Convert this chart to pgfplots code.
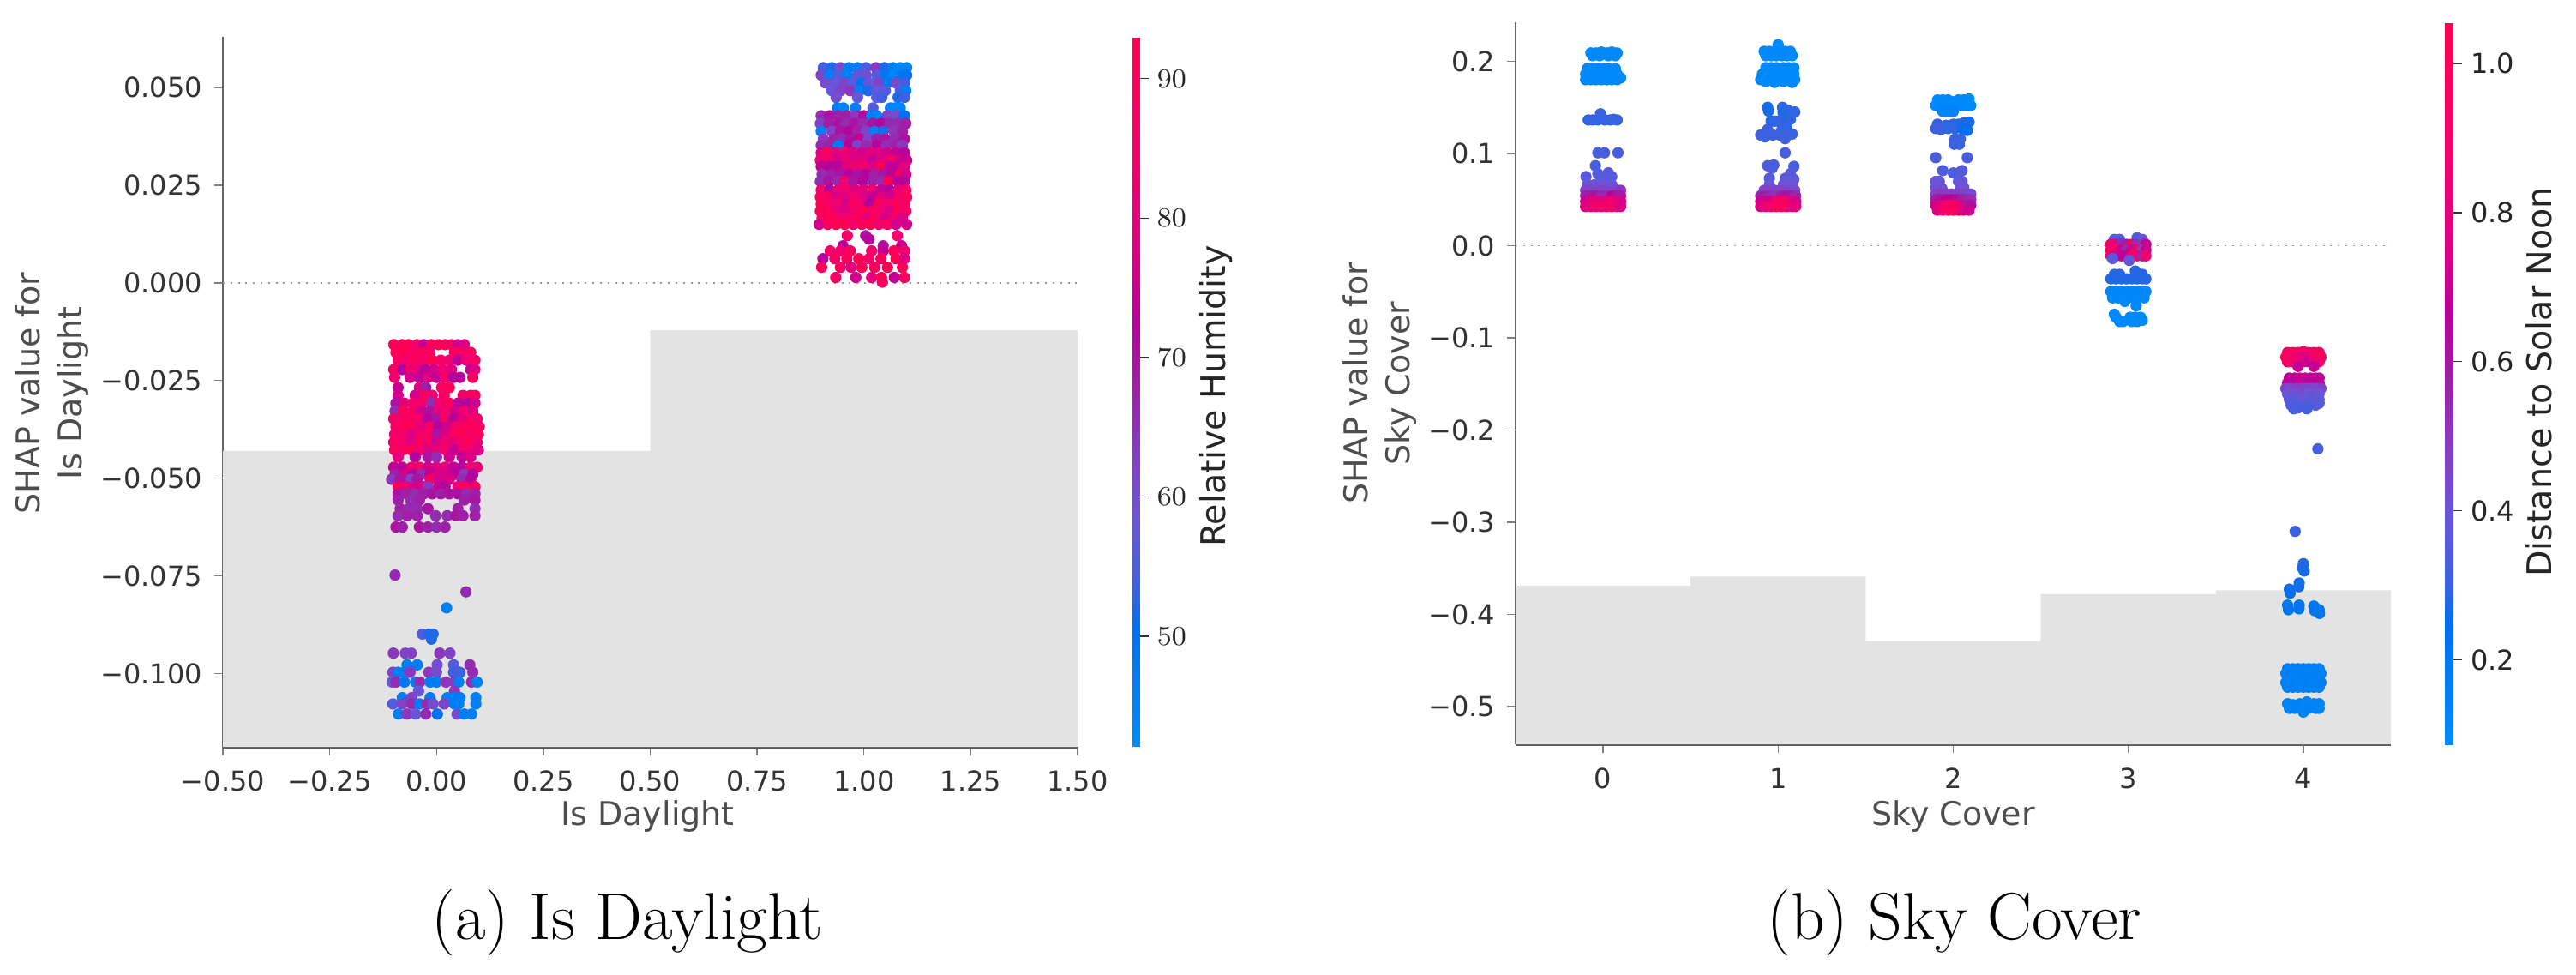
\documentclass[border=0pt]{standalone}
\usepackage{fontspec}
\usepackage{pgfplots}
\pgfplotsset{compat=1.18}
\newfontfamily\djv{DejaVu Sans}
\definecolor{histgray}{HTML}{E3E3E3}
\definecolor{ticktext}{HTML}{333333}
\definecolor{labeltext}{HTML}{4D4D4D}
\pgfplotsset{
  colormap={shap}{rgb255(0pt)=(0,139,251) rgb255(17pt)=(0,112,238) rgb255(22pt)=(58,98,224) rgb255(32pt)=(106,85,216) rgb255(42pt)=(138,58,192) rgb255(50pt)=(156,34,168) rgb255(60pt)=(184,0,154) rgb255(68pt)=(216,0,136) rgb255(81pt)=(240,0,112) rgb255(100pt)=(255,0,81)},
  shapaxis/.style={
    scale only axis,
    colormap name=shap,
    axis x line=bottom, axis y line=left,
    x axis line style={-, draw=black!65, line width=0.75pt},
    y axis line style={-, draw=black!60, line width=0.4pt},
    tick align=outside,
    major tick length=2.5pt,
    tick style={draw=black!50, line width=0.35pt},
    tick label style={font=\djv\fontsize{8}{10}\selectfont, text=ticktext},
    label style={font=\djv\fontsize{9.5}{12.2}\selectfont, text=labeltext},
    xlabel style={anchor=center},
    ylabel style={anchor=center, align=center},
    xticklabel style={yshift=-1pt},
  },
  shapbar/.style={
    axis line style={draw=none},
    tick align=outside,
    major tick length=2.5pt,
    ytick pos=right,
    ytick style={draw=black!80, line width=0.35pt},
    yticklabel style={font=\djv\fontsize{8}{10}\selectfont, text=black!85, xshift=-1pt},
    ylabel style={font=\djv\fontsize{9.9}{12}\selectfont, text=black!85, anchor=center},
  },
  dots/.style={scatter, only marks, point meta=explicit, mark=*, mark size=1.45pt,
    scatter/use mapped color={draw=mapped color, fill=mapped color}},
}
\begin{document}
\begin{tikzpicture}
\path[use as bounding box] (0pt,0pt) rectangle (751.25pt,284pt);
\begin{axis}[shapaxis,
  at={(65pt,66.25pt)}, anchor=south west,
  width=249.25pt, height=207pt,
  xmin=-0.5, xmax=1.5, ymin=-0.1188, ymax=0.063,
  xtick={-0.5,-0.25,0,0.25,0.5,0.75,1,1.25,1.5},
  xticklabels={−0.50,−0.25,0.00,0.25,0.50,0.75,1.00,1.25,1.50},
  ytick={-0.1,-0.075,-0.05,-0.025,0,0.025,0.05},
  yticklabels={−0.100,−0.075,−0.050,−0.025,0.000,0.025,0.050},
  xlabel={Is Daylight},
  xlabel style={at={(axis description cs:0.497,-0.098)}},
  ylabel={SHAP value for\\Is Daylight},
  ylabel style={at={(axis description cs:-0.2,0.498)}},
  point meta min=42.06, point meta max=93,
  colorbar,
  colorbar style={shapbar, at={(1.064,1)}, anchor=north west, width=2.25pt,
    ytick={50,60,70,80,90},
    ylabel={Relative Humidity},
    ylabel style={at={(axis description cs:10.9,0.494)}}},
]
\addplot[fill=histgray, draw=none] coordinates {(-0.5,-0.1188)(-0.5,-0.043)(0.5,-0.043)(0.5,-0.0121)(1.5,-0.0121)(1.5,-0.1188)};
\addplot[draw=black!40, line width=0.45pt, dash pattern=on 0.5pt off 1.7pt] coordinates {(-0.5,0)(1.5,0)};
\addplot[dots] coordinates {
(.905,.0551)[54](.925,.0551)[52](.945,.0551)[60](.965,.0551)[47](.985,.0551)[46](1.005,.0551)[55](1.028,.0551)[64](1.048,.0551)[52](1.068,.0551)[46](1.085,.0551)[44](1.1,.0551)[44]
(.9,.0532)[62](.918,.0532)[46](.94,.0532)[56](.96,.0532)[46](.985,.0532)[57](1.005,.0532)[60](1.03,.0532)[56](1.05,.0532)[48](1.07,.0532)[44](1.088,.0532)[48](1.1,.0532)[50]
(.91,.0512)[60](.932,.0512)[58](.955,.0512)[62](.975,.0512)[56](.995,.0512)[50](1.012,.0512)[58](1.035,.0512)[62](1.055,.0512)[47](1.075,.0512)[60](1.095,.0512)[54]
(.925,.0492)[58](.945,.0492)[62](.968,.0492)[64](.99,.0492)[46](1.01,.0492)[52](1.03,.0492)[58](1.05,.0492)[56](1.085,.0492)[56](1.098,.0492)[46]
(.935,.0475)[60](.985,.0475)[58](1.03,.0475)[56](1.042,.0475)[54](1.08,.0475)[52](1.095,.0475)[54]
(.938,.0448)[47](.952,.0448)[45](.98,.0448)[46](1.021,.0448)[56](1.062,.0448)[45](1.072,.0448)[44](1.085,.0448)[44]
(.9,.0428)[66](.92,.0428)[70](.94,.0428)[68](.96,.0428)[68](.98,.0428)[64](1,.0428)[72](1.018,.0428)[46](1.03,.0428)[46](1.055,.0428)[62](1.075,.0428)[60](1.095,.0428)[50]
(.898,.0408)[62](.918,.0408)[68](.94,.0408)[70](.958,.0408)[66](.978,.0408)[70](.998,.0408)[66](1.02,.0408)[70](1.04,.0408)[72](1.06,.0408)[66](1.08,.0408)[66](1.098,.0408)[68]
(.9,.0388)[46](.925,.0388)[62](.945,.0388)[70](.965,.0388)[72](.985,.0388)[68](1.005,.0388)[62](1.025,.0388)[46](1.045,.0388)[52](1.07,.0388)[64](1.09,.0388)[68]
(.905,.0368)[64](.93,.0368)[68](.95,.0368)[66](.97,.0368)[70](.99,.0368)[74](1.01,.0368)[62](1.03,.0368)[68](1.05,.0368)[70](1.072,.0368)[66](1.095,.0368)[70]
(.9,.0352)[66](.92,.0352)[68](.94,.0352)[48](.965,.0352)[72](.985,.0352)[62](1.005,.0352)[66](1.03,.0352)[72](1.052,.0352)[66](1.075,.0352)[68](1.09,.0352)[64]
(.9,.0333)[78](.912,.0333)[90](.935,.0333)[80](.955,.0333)[84](.975,.0333)[78](.995,.0333)[76](1.015,.0333)[80](1.035,.0333)[78](1.055,.0333)[76](1.075,.0333)[74](1.095,.0333)[72]
(.898,.0314)[82](.92,.0314)[84](.94,.0314)[76](.96,.0314)[82](.98,.0314)[78](1,.0314)[80](1.02,.0314)[74](1.04,.0314)[78](1.065,.0314)[88](1.085,.0314)[76](1.1,.0314)[74]
(.9,.0298)[74](.92,.0298)[72](.94,.0298)[72](.96,.0298)[80](.98,.0298)[84](1,.0298)[84](1.02,.0298)[78](1.04,.0298)[92](1.06,.0298)[74](1.08,.0298)[74](1.095,.0298)[80]
(.902,.0278)[66](.925,.0278)[68](.945,.0278)[70](.965,.0278)[72](.985,.0278)[70](1.005,.0278)[72](1.025,.0278)[68](1.045,.0278)[70](1.065,.0278)[72](1.085,.0278)[88](1.098,.0278)[76]
(.898,.026)[66](.918,.026)[70](.94,.026)[66](.955,.026)[84](.975,.026)[70](.998,.026)[72](1.02,.026)[68](1.042,.026)[66](1.058,.026)[92](1.08,.026)[72](1.095,.026)[72]
(.9,.0238)[84](.92,.0238)[72](.94,.0238)[82](.96,.0238)[86](.98,.0238)[78](1,.0238)[80](1.02,.0238)[84](1.04,.0238)[74](1.06,.0238)[72](1.08,.0238)[82](1.098,.0238)[84]
(.898,.022)[90](.915,.022)[88](.938,.022)[78](.96,.022)[80](.98,.022)[84](1,.022)[78](1.02,.022)[74](1.04,.022)[80](1.062,.022)[76](1.085,.022)[86](1.1,.022)[90]
(.9,.0202)[91](.92,.0202)[86](.94,.0202)[84](.96,.0202)[76](.975,.0202)[90](.995,.0202)[84](1.012,.0202)[72](1.035,.0202)[90](1.055,.0202)[84](1.075,.0202)[90](1.095,.0202)[88]
(.898,.0184)[92](.918,.0184)[90](.94,.0184)[80](.958,.0184)[78](.98,.0184)[86](1,.0184)[92](1.02,.0184)[88](1.04,.0184)[84](1.06,.0184)[78](1.08,.0184)[92](1.098,.0184)[86]
(.902,.0166)[90](.925,.0166)[92](.945,.0166)[84](.965,.0166)[86](.985,.0166)[90](1.005,.0166)[80](1.025,.0166)[90](1.05,.0166)[76](1.07,.0166)[84](1.09,.0166)[78]
(.895,.015)[76](.915,.015)[88](.935,.015)[92](.955,.015)[92](.975,.015)[86](.995,.015)[90](1.015,.015)[92](1.035,.015)[84](1.055,.015)[88](1.075,.015)[76](1.1,.015)[76]
(.961,.0121)[86](1.004,.0121)[70](1.078,.0121)[84]
(.951,.0095)[72](1.045,.0095)[70](1.088,.0095)[75](1.012,.0112)[72]
(.921,.0082)[86](.945,.0082)[84](.968,.0082)[88](1.018,.0082)[86](1.045,.0082)[74](1.07,.0082)[90](1.095,.0082)[84]
(.904,.0062)[72](.932,.0062)[88](.96,.0062)[90](.988,.0062)[92](1.012,.0062)[86](1.04,.0062)[90](1.075,.0062)[92](1.095,.0062)[78]
(.901,.004)[90](.945,.004)[88](.97,.004)[80](.995,.004)[92](1.025,.004)[90](1.055,.004)[92](1.09,.004)[90]
(.934,.0014)[88](.981,.0014)[76](1.018,.0014)[80](1.041,.0014)[92](1.071,.0014)[74](1.095,.0014)[90](1.043,.0002)[90]
(-.1,-.0158)[90](-.08,-.0158)[91](-.065,-.0158)[92](-.045,-.0158)[85](-.03,-.0158)[74](-.012,-.0158)[88](.005,-.0158)[90](.02,-.0158)[91](.035,-.0158)[88](.05,-.0158)[76](.065,-.0158)[78]
(-.095,-.0178)[90](-.075,-.0178)[92](-.055,-.0178)[88](-.035,-.0178)[90](-.015,-.0178)[87](.042,-.0178)[90](.06,-.0178)[88](.08,-.0178)[90]
(-.09,-.0198)[88](-.07,-.0198)[84](-.05,-.0198)[90](-.03,-.0198)[86](-.01,-.0198)[92](.01,-.0198)[88](.03,-.0198)[84](.05,-.0198)[74](.07,-.0198)[82](.09,-.0198)[86]
(-.1,-.0222)[88](-.08,-.0222)[72](-.06,-.0222)[86](-.04,-.0222)[78](-.025,-.0222)[72](-.005,-.0222)[76](.015,-.0222)[84](.035,-.0222)[80](.08,-.0222)[74](.09,-.0222)[78]
(-.098,-.0242)[84](-.062,-.0242)[76](-.04,-.0242)[74](-.02,-.0242)[78](0,-.0242)[74](.02,-.0242)[86](.04,-.0242)[72](.055,-.0242)[72](.085,-.0242)[88]
(-.09,-.0268)[74](-.04,-.0268)[80](-.025,-.0268)[68](.012,-.0268)[88](.03,-.0268)[90]
(-.09,-.0288)[76](-.05,-.0288)[76](-.028,-.0288)[88](-.01,-.0288)[84](.018,-.0288)[88](.062,-.0288)[86](.08,-.0288)[90](.09,-.0288)[88]
(-.095,-.0308)[70](-.075,-.0308)[80](-.055,-.0308)[84](-.035,-.0308)[88](-.012,-.0308)[66](.008,-.0308)[84](.03,-.0308)[90](.05,-.0308)[74](.07,-.0308)[72](.09,-.0308)[76]
(-.097,-.0328)[66](-.078,-.0328)[90](-.055,-.0328)[88](-.035,-.0328)[76](-.015,-.0328)[70](.005,-.0328)[82](.025,-.0328)[84](.045,-.0328)[76](.065,-.0328)[84](.085,-.0328)[78]
(-.1,-.0348)[86](-.08,-.0348)[88](-.06,-.0348)[90](-.04,-.0348)[84](-.02,-.0348)[72](0,-.0348)[70](.02,-.0348)[88](.04,-.0348)[72](.06,-.0348)[80](.08,-.0348)[86](.095,-.0348)[84]
(-.095,-.0368)[88](-.075,-.0368)[92](-.055,-.0368)[90](-.035,-.0368)[80](-.015,-.0368)[86](.005,-.0368)[72](.025,-.0368)[76](.045,-.0368)[86](.065,-.0368)[88](.085,-.0368)[90](.1,-.0368)[88]
(-.098,-.0388)[84](-.078,-.0388)[86](-.058,-.0388)[78](-.038,-.0388)[84](-.018,-.0388)[88](.002,-.0388)[70](.022,-.0388)[78](.042,-.0388)[90](.062,-.0388)[92](.082,-.0388)[86](.098,-.0388)[90]
(-.1,-.0408)[88](-.08,-.0408)[84](-.06,-.0408)[78](-.04,-.0408)[88](-.02,-.0408)[86](0,-.0408)[76](.02,-.0408)[84](.04,-.0408)[80](.06,-.0408)[88](.08,-.0408)[92](.095,-.0408)[84]
(-.098,-.0428)[90](-.078,-.0428)[88](-.058,-.0428)[92](-.038,-.0428)[84](-.018,-.0428)[78](.002,-.0428)[82](.022,-.0428)[86](.042,-.0428)[74](.062,-.0428)[84](.082,-.0428)[84](.098,-.0428)[78]
(-.09,-.0446)[80](-.05,-.0446)[72](-.02,-.0446)[70](0,-.0446)[66](.03,-.0446)[76](.06,-.0446)[74](.08,-.0446)[78]
(-.1,-.0472)[74](-.08,-.0472)[72](-.058,-.0472)[84](-.04,-.0472)[86](-.02,-.0472)[76](0,-.0472)[78](.02,-.0472)[80](.04,-.0472)[74](.06,-.0472)[72](.08,-.0472)[84](.095,-.0472)[82]
(-.097,-.049)[68](-.075,-.049)[76](-.055,-.049)[72](-.035,-.049)[66](-.015,-.049)[74](.005,-.049)[78](.025,-.049)[76](.045,-.049)[72](.065,-.049)[64](.085,-.049)[72]
(-.105,-.0503)[64](-.085,-.0503)[70](-.06,-.0503)[62](-.045,-.0503)[70](-.015,-.0503)[88](.005,-.0503)[76](.03,-.0503)[78](.06,-.0503)[66](.08,-.0503)[72]
(-.09,-.0522)[90](-.07,-.0522)[82](-.05,-.0522)[76](-.03,-.0522)[78](-.02,-.0522)[64](.005,-.0522)[74](.02,-.0522)[72](.05,-.0522)[84](.065,-.0522)[88](.09,-.0522)[86]
(-.09,-.054)[70](-.07,-.054)[68](-.05,-.054)[66](-.03,-.054)[68](-.01,-.054)[70](.01,-.054)[68](.03,-.054)[70](.05,-.054)[70](.07,-.054)[66](.09,-.054)[68]
(-.09,-.0556)[68](-.06,-.0556)[66](-.04,-.0556)[68](.065,-.0556)[68](.09,-.0556)[70]
(-.085,-.0578)[68](-.065,-.0578)[66](-.045,-.0578)[66](-.02,-.0578)[70](.05,-.0578)[68](.09,-.0578)[66]
(-.09,-.0596)[66](-.068,-.0596)[68](-.045,-.0596)[68](-.002,-.0596)[66](.025,-.0596)[66](.045,-.0596)[70](.062,-.0596)[68](.09,-.0596)[68]
(-.095,-.0625)[70](-.08,-.0625)[68](-.04,-.0625)[70](-.02,-.0625)[68](0,-.0625)[66](.02,-.0625)[68]
(-.097,-.0748)[66](.069,-.0791)[66](.0236,-.0832)[46]
(-.033,-.0899)[56](-.018,-.0899)[52](-.008,-.0899)[52](-.012,-.0912)[52]
(-.101,-.0948)[64](-.073,-.0948)[62](-.059,-.0948)[62](.0075,-.0948)[64](.0315,-.0948)[62]
(-.069,-.0978)[46](-.045,-.0978)[47](.0015,-.0978)[60](.04,-.0978)[56](.078,-.0978)[66]
(-.102,-.0997)[62](-.09,-.0997)[46](-.075,-.0997)[46](-.062,-.0997)[64](-.018,-.0997)[64](.0,-.0997)[60](.04,-.0997)[54](.055,-.0997)[54](.085,-.0997)[66]
(-.104,-.1022)[58](-.095,-.1022)[66](-.075,-.1022)[48](-.049,-.1022)[46](-.039,-.1022)[66](-.015,-.1022)[47](0,-.1022)[47](.022,-.1022)[64](.042,-.1022)[64](.052,-.1022)[46](.082,-.1022)[66](.095,-.1022)[46]
(-.042,-.1045)[58](.042,-.1045)[64]
(-.08,-.1062)[46](-.058,-.1062)[62](-.015,-.1062)[47](.025,-.1062)[46](.042,-.1062)[46](.055,-.1062)[47](.092,-.1062)[46]
(-.102,-.1078)[56](-.08,-.1078)[62](-.058,-.1078)[66](-.04,-.1078)[47](-.022,-.1078)[66](-.008,-.1078)[60](.018,-.1078)[62](.042,-.1078)[46](.052,-.1078)[46](.092,-.1078)[46]
(-.089,-.1104)[46](-.069,-.1104)[64](-.049,-.1104)[58](-.025,-.1104)[66](.002,-.1104)[50](.048,-.1104)[60](.065,-.1104)[46](.082,-.1104)[46]
};
\end{axis}
\begin{axis}[shapaxis,
  at={(442pt,67pt)}, anchor=south west,
  width=255.25pt, height=210.5pt,
  xmin=-0.5, xmax=4.5, ymin=-0.541, ymax=0.2423,
  xtick={0,1,2,3,4},
  xticklabels={0,1,2,3,4},
  ytick={-0.5,-0.4,-0.3,-0.2,-0.1,0,0.1,0.2},
  yticklabels={−0.5,−0.4,−0.3,−0.2,−0.1,0.0,0.1,0.2},
  xlabel={Sky Cover},
  xlabel style={at={(axis description cs:0.5,-0.0998)}},
  ylabel={SHAP value for\\Sky Cover},
  ylabel style={at={(axis description cs:-0.155,0.5)}},
  point meta min=0.087, point meta max=1.055,
  colorbar,
  colorbar style={shapbar, at={(1.0617,1)}, anchor=north west, width=2.5pt,
    ytick={0.2,0.4,0.6,0.8,1.0},
    yticklabels={0.2,0.4,0.6,0.8,1.0},
    ylabel={Distance to Solar Noon},
    ylabel style={at={(axis description cs:11.0,0.502)}}},
]
\addplot[fill=histgray, draw=none] coordinates {(-0.5,-0.541)(-0.5,-0.369)(0.5,-0.369)(0.5,-0.359)(1.5,-0.359)(1.5,-0.429)(2.5,-0.429)(2.5,-0.378)(3.5,-0.378)(3.5,-0.374)(4.5,-0.374)(4.5,-0.541)};
\addplot[draw=black!40, line width=0.45pt, dash pattern=on 0.5pt off 1.7pt] coordinates {(-0.5,0)(4.5,0)};
\addplot[dots] coordinates {
(-.07,.209)[.1](-.04,.209)[.1](-.01,.21)[.1](.02,.209)[.1](.05,.21)[.1](.08,.209)[.1](-.06,.206)[.1](-.02,.206)[.1](.03,.206)[.1](.07,.206)[.1]
(-.09,.192)[.11](-.06,.192)[.1](-.03,.192)[.1](0,.192)[.11](.03,.192)[.1](.07,.192)[.1]
(-.1,.186)[.1](-.07,.186)[.11](-.04,.186)[.1](-.01,.186)[.1](.02,.186)[.1](.05,.186)[.11](.08,.186)[.11](.1,.182)[.1]
(-.1,.18)[.11](-.07,.18)[.1](-.04,.18)[.11](-.01,.18)[.1](.02,.18)[.1](.05,.18)[.11](.08,.18)[.1]
(-.085,.1363)[.29](-.06,.1363)[.3](-.03,.1363)[.29](-.015,.143)[.3](.01,.1363)[.3](.04,.1363)[.29](.08,.1363)[.3](.06,.137)[.3]
(-.03,.1007)[.33](.008,.1007)[.33](.085,.1007)[.33](-.044,.0867)[.33]
(-.098,.0749)[.36](-.016,.0749)[.36](.016,.0749)[.36](.049,.0749)[.35](-.03,.078)[.35](.03,.079)[.36]
(-.09,.066)[.4](-.05,.066)[.4](-.02,.066)[.39](.01,.066)[.4](.05,.066)[.38]
(-.1,.06)[.47](-.07,.06)[.46](-.04,.06)[.45](-.01,.06)[.47](.02,.06)[.46](.05,.06)[.45](.08,.06)[.46](.1,.06)[.5]
(-.1,.054)[.58](-.07,.054)[.6](-.04,.054)[.62](-.01,.054)[.55](.02,.054)[.55](.05,.054)[.66](.08,.054)[.62](.1,.054)[.6]
(-.1,.048)[.72](-.07,.048)[.78](-.04,.048)[.82](-.01,.048)[.78](.02,.048)[.8](.05,.048)[.86](.08,.048)[.84](.1,.048)[.74]
(-.1,.0425)[.78](-.07,.0425)[.84](-.04,.0425)[.9](-.01,.0425)[.9](.02,.0425)[.92](.05,.0425)[.92](.08,.0425)[.88](.1,.0425)[.78]
(.92,.2107)[.1](.95,.2107)[.1](.98,.2107)[.1](1.01,.2107)[.1](1.04,.2107)[.1](1.07,.2107)[.1](1,.218)[.1]
(.93,.206)[.1](.96,.206)[.1](.99,.206)[.1](1.02,.206)[.1](1.05,.206)[.1](1.08,.206)[.1]
(.93,.193)[.11](.96,.193)[.1](.99,.193)[.1](1.03,.193)[.1](1.06,.193)[.11](1.09,.193)[.1]
(.91,.186)[.1](.94,.186)[.1](.97,.186)[.11](1,.186)[.1](1.03,.186)[.1](1.06,.186)[.1](1.09,.186)[.1]
(.9,.18)[.11](.93,.18)[.1](.96,.18)[.1](.99,.18)[.11](1.02,.18)[.1](1.05,.18)[.1](1.08,.18)[.1](1.095,.18)[.1]
(.93,.178)[.1](.98,.177)[.1](1.03,.178)[.1](1.08,.177)[.1]
(.94,.15)[.27](1.025,.15)[.29](1.055,.147)[.29](1.095,.145)[.29](.945,.146)[.27](1.028,.144)[.28]
(.96,.135)[.28](.98,.135)[.29](1,.135)[.29](1.02,.135)[.3](1.045,.135)[.28](1.07,.137)[.29]
(.94,.126)[.3](1.02,.125)[.3](1.05,.128)[.29]
(.9,.12)[.31](.935,.12)[.31](.97,.12)[.3](1.01,.12)[.3](1.05,.12)[.31](1.08,.121)[.3](.925,.118)[.3](1.04,.116)[.31]
(1.04,.1007)[.33]
(.94,.0867)[.33](.975,.0875)[.33](.965,.084)[.33](1.09,.086)[.33]
(.95,.073)[.36](1.04,.073)[.36](1.07,.078)[.36](1.09,.072)[.37](.95,.066)[.38](1.06,.066)[.38](1.08,.066)[.4](1.03,.066)[.39]
(.92,.06)[.46](.95,.06)[.46](.98,.06)[.46](1.01,.06)[.47](1.04,.06)[.46](1.07,.06)[.45](1.095,.06)[.44]
(.9,.054)[.56](.93,.054)[.58](.96,.054)[.55](.99,.054)[.52](1.02,.054)[.6](1.05,.054)[.62](1.08,.054)[.6](1.1,.054)[.55]
(.9,.048)[.72](.93,.048)[.74](.96,.048)[.72](.99,.048)[.95](1.02,.048)[.95](1.05,.048)[.96](1.08,.048)[.8](1.1,.048)[.74]
(.9,.0425)[.78](.93,.0425)[.82](.96,.0425)[.9](.99,.0425)[.98](1.02,.0425)[1](1.05,.0425)[.98](1.08,.0425)[.84](1.1,.0425)[.8]
(1.91,.158)[.1](1.94,.158)[.1](1.97,.158)[.11](2,.156)[.11](2.03,.158)[.1](2.06,.158)[.1](2.09,.159)[.1]
(1.9,.152)[.1](1.93,.152)[.11](1.96,.152)[.1](1.99,.152)[.1](2.02,.152)[.1](2.05,.152)[.1](2.08,.152)[.1](2.1,.152)[.1]
(1.94,.1456)[.13](1.97,.1456)[.12](2,.1456)[.13]
(1.91,.1317)[.29](1.96,.1305)[.29](2,.1317)[.29](2.03,.1317)[.28](2.06,.133)[.28](2.09,.134)[.27]
(1.9,.127)[.3](1.93,.126)[.3](1.97,.127)[.29](2.01,.127)[.29](2.05,.127)[.26](2.08,.125)[.24]
(2.01,.1156)[.3](2.04,.1156)[.3](2.005,.11)[.31](2.035,.11)[.3]
(1.9,.0954)[.33](2.08,.0954)[.33]
(1.94,.0814)[.34](2,.0788)[.34](2.03,.0788)[.34](2.05,.0814)[.35]
(1.9,.0697)[.39](1.92,.0697)[.38](2.03,.0697)[.38](2.05,.0697)[.38]
(1.9,.063)[.41](1.935,.062)[.42](2.04,.062)[.42](2.06,.063)[.41]
(1.9,.056)[.47](1.93,.056)[.5](1.96,.056)[.48](1.99,.056)[.48](2.02,.056)[.48](2.05,.056)[.46](2.08,.056)[.46](2.1,.056)[.44]
(1.9,.05)[.58](1.93,.05)[.62](1.96,.05)[.66](1.99,.05)[.66](2.02,.05)[.64](2.05,.05)[.58](2.08,.05)[.56](2.1,.05)[.54]
(1.9,.044)[.72](1.93,.044)[.78](1.96,.044)[.9](1.99,.044)[.96](2.02,.044)[.9](2.05,.044)[.76](2.08,.044)[.6](2.1,.044)[.62]
(1.91,.0385)[.8](1.94,.0385)[.86](1.97,.0385)[.98](2,.0385)[1](2.03,.0385)[.92](2.06,.0385)[.8](2.09,.0385)[.72]
(2.92,.0067)[.34](2.95,.0067)[.34](3.05,.0085)[.33](3.06,.0067)[.33](3.08,.0067)[.4]
(2.9,.0014)[.9](2.93,.0014)[.82](2.96,.0014)[.56](2.99,.0014)[.58](3.02,.0014)[.95](3.05,.0014)[.54](3.08,.0014)[.5](3.1,.0014)[.7]
(2.9,-.0048)[.95](2.93,-.0048)[.98](2.96,-.0048)[.72](2.99,-.0048)[.54](3.02,-.0048)[.72](3.05,-.0048)[.95](3.08,-.0048)[.48](3.1,-.0048)[.72]
(2.9,-.011)[.9](2.93,-.011)[.76](2.96,-.011)[.7](2.99,-.011)[.66](3.02,-.011)[.98](3.05,-.011)[.85](3.08,-.011)[.55](3.1,-.011)[.9]
(2.91,-.014)[.36](3.005,-.016)[.38]
(2.92,-.0312)[.28](2.95,-.0312)[.28](3.04,-.0275)[.28](3.05,-.0312)[.28](3.08,-.0312)[.28]
(2.9,-.036)[.28](2.93,-.036)[.28](2.96,-.036)[.28](2.99,-.036)[.28](3.02,-.036)[.28](3.05,-.036)[.28](3.08,-.036)[.28](3.1,-.036)[.28]
(2.9,-.0498)[.12](2.93,-.0498)[.11](2.96,-.0498)[.11](2.99,-.0498)[.12](3.02,-.0498)[.11](3.05,-.0498)[.12](3.08,-.0498)[.11](3.1,-.0498)[.11]
(2.91,-.0566)[.11](2.94,-.0566)[.12](2.97,-.0566)[.11](3,-.0566)[.11](3.03,-.0566)[.12](3.06,-.0566)[.11](3.09,-.0566)[.11]
(3.045,-.0653)[.11](2.98,-.0605)[.11]
(2.92,-.0745)[.1](2.93,-.0777)[.1](2.95,-.0823)[.1](2.97,-.0823)[.1](3.01,-.0777)[.1](3.04,-.0777)[.1](3.07,-.0777)[.1](3.02,-.0823)[.1](3.05,-.0823)[.1](3.08,-.081)[.1]
(3.91,-.116)[.98](3.94,-.116)[.96](3.97,-.116)[1](4,-.115)[.9](4.03,-.116)[.9](4.06,-.116)[.96](4.09,-.116)[.98]
(3.9,-.121)[1](3.93,-.121)[.96](3.96,-.121)[.85](3.99,-.121)[.82](4.02,-.121)[.78](4.05,-.121)[.9](4.08,-.121)[.98](4.1,-.121)[1]
(3.91,-.126)[.95](3.94,-.126)[.92](3.97,-.126)[.88](4,-.126)[.78](4.03,-.126)[.72](4.06,-.126)[.85](4.09,-.126)[.9]
(3.97,-.131)[.7](4.06,-.131)[.7]
(3.92,-.1437)[.68](3.95,-.1437)[.7](3.98,-.1437)[.72](4.01,-.1437)[.7](4.04,-.1437)[.72](4.07,-.1437)[.68](4.09,-.1437)[.7]
(3.91,-.149)[.68](3.94,-.149)[.66](3.97,-.149)[.68](4,-.149)[.7](4.03,-.149)[.66](4.06,-.149)[.68](4.09,-.149)[.66]
(3.9,-.155)[.46](3.93,-.155)[.44](3.96,-.155)[.48](3.99,-.155)[.46](4.02,-.155)[.44](4.05,-.155)[.46](4.08,-.155)[.44](4.1,-.155)[.46]
(3.91,-.161)[.4](3.94,-.161)[.42](3.97,-.161)[.42](4,-.161)[.44](4.03,-.161)[.4](4.06,-.161)[.42](4.09,-.161)[.4]
(3.92,-.167)[.38](3.95,-.167)[.36](3.98,-.167)[.38](4.01,-.167)[.4](4.04,-.167)[.37](4.07,-.167)[.36](4.09,-.167)[.38]
(3.93,-.173)[.35](3.96,-.173)[.34](4,-.173)[.36](4.03,-.173)[.35](4.07,-.173)[.34](4.09,-.171)[.36]
(3.945,-.177)[.33](3.97,-.176)[.33](4.02,-.177)[.32]
(4.083,-.2205)[.33](3.953,-.31)[.3]
(4,-.345)[.28](3.995,-.3496)[.28](4.005,-.353)[.27]
(3.976,-.366)[.26](3.974,-.37)[.27](3.92,-.3727)[.27](3.924,-.377)[.26]
(3.91,-.39)[.22](3.915,-.395)[.22](3.976,-.39)[.22](3.975,-.394)[.22](4.06,-.391)[.22](4.065,-.396)[.22](4.09,-.395)[.21](4.092,-.399)[.21]
(3.91,-.459)[.16](3.94,-.459)[.15](3.97,-.459)[.16](4,-.459)[.15](4.03,-.459)[.16](4.06,-.459)[.15](4.09,-.459)[.15]
(3.9,-.464)[.15](3.93,-.464)[.16](3.96,-.464)[.15](3.99,-.464)[.16](4.02,-.464)[.15](4.05,-.464)[.15](4.08,-.464)[.16](4.1,-.464)[.15]
(3.91,-.469)[.16](3.94,-.469)[.15](3.97,-.469)[.15](4,-.469)[.16](4.03,-.469)[.15](4.06,-.469)[.16](4.09,-.469)[.15]
(3.9,-.474)[.15](3.93,-.474)[.15](3.96,-.474)[.16](3.99,-.474)[.15](4.02,-.474)[.16](4.05,-.474)[.15](4.08,-.474)[.15](4.1,-.474)[.16]
(3.91,-.479)[.15](3.94,-.479)[.16](3.97,-.479)[.15](4,-.479)[.15](4.03,-.479)[.16](4.06,-.479)[.15](4.09,-.479)[.15]
(3.91,-.497)[.14](3.94,-.498)[.13](3.98,-.497)[.14](4.02,-.495)[.13](4.06,-.497)[.13](4.09,-.497)[.14]
(3.92,-.502)[.13](3.95,-.502)[.14](3.99,-.503)[.13](4,-.506)[.13](4.03,-.502)[.14](4.07,-.502)[.13](4.09,-.502)[.13]
};
\end{axis}
\node[font=\fontsize{19.4}{22}\selectfont, text=black] at (183pt,15pt) {(a) Is Daylight};
\node[font=\fontsize{19.4}{22}\selectfont, text=black] at (570pt,15pt) {(b) Sky Cover};
\end{tikzpicture}
\end{document}
